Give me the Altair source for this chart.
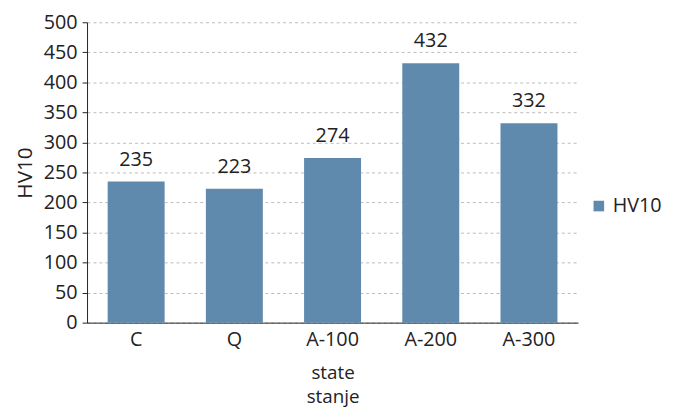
import altair as alt
import pandas as pd

categories = ["C", "Q", "A-100", "A-200", "A-300"]
values = [235, 223, 274, 432, 332]
series = ["HV10"] * 5

df = pd.DataFrame({"state": categories, "HV10": values, "series": series})

FONT = "Open Sans"
BAR = "#5f8aae"
TXT = "#222222"
FS = 20

x_enc = alt.X("state:N", sort=categories,
              scale=alt.Scale(paddingInner=0.42, paddingOuter=0.21),
              axis=alt.Axis(title=["state", "stanje"], labelAngle=0, ticks=False,
                            labelPadding=7, titlePadding=15, domainColor="#222",
                            labelFontSize=FS, titleFontSize=19, labelFont=FONT,
                            titleFont=FONT, labelColor=TXT, titleColor=TXT,
                            titleFontWeight="normal", titleLineHeight=24))
y_enc = alt.Y("HV10:Q", scale=alt.Scale(domain=[0, 500]),
              axis=alt.Axis(title="HV10", values=list(range(0, 501, 50)),
                            labelOverlap=False,
                            tickSize=5, tickColor="#222", domainColor="#222",
                            gridDash=[3, 3], gridColor="#bbbbbb",
                            labelFontSize=FS, titleFontSize=21, labelFont=FONT,
                            titleFont=FONT, labelColor=TXT, titleColor=TXT,
                            titleFontWeight="normal", labelPadding=5, titlePadding=8))

base = alt.Chart(df).encode(x=x_enc, y=y_enc)

bars = base.mark_bar(color=BAR).encode(
    fill=alt.Fill("series:N", scale=alt.Scale(range=[BAR]),
                  legend=alt.Legend(title=None, orient="none", legendX=508, legendY=176,
                                    symbolType="square", symbolSize=115,
                                    symbolStrokeWidth=0,
                                    labelFontSize=FS, labelFont=FONT, labelColor=TXT)),
)

labels = base.mark_text(baseline="bottom", dy=-12, font=FONT, fontSize=FS, color=TXT).encode(
    text="HV10:Q",
)

chart = (bars + labels).properties(
    width=497, height=304,
    autosize=alt.AutoSizeParams(type="none"),
    padding={"left": 80, "top": 12, "right": 90, "bottom": 88},
).configure_view(stroke=None)

chart.save("out.html", embed_options={"renderer": "svg", "actions": False})
